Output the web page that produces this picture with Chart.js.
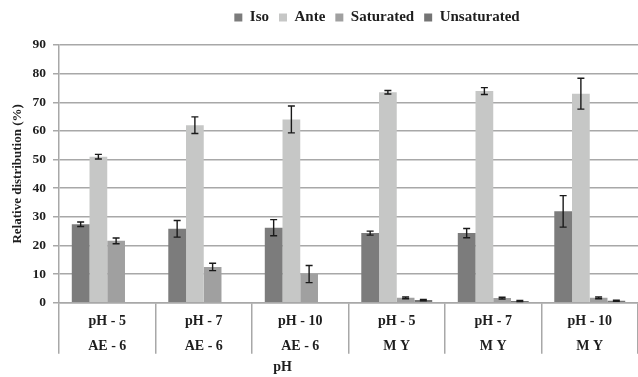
<!DOCTYPE html>
<html>
<head>
<meta charset="utf-8">
<script src="https://cdn.jsdelivr.net/npm/chart.js@4/dist/chart.umd.min.js"></script>
<style>
  html, body { margin: 0; padding: 0; background: #ffffff; }
  #wrap { width: 638px; height: 377px; }
</style>
</head>
<body>
<div id="wrap"><canvas id="chart" width="638" height="377"></canvas></div>
<script>
// Sample groups (pH / strain)
const categories = [
  ['pH - 5', 'AE - 6'], ['pH - 7', 'AE - 6'], ['pH - 10', 'AE - 6'],
  ['pH - 5', 'M Y'], ['pH - 7', 'M Y'], ['pH - 10', 'M Y']
];

// Fatty acid class distribution (%), mean and error
const isoValues = [27.4, 25.8, 26.2, 24.3, 24.3, 31.9];
const isoErrors = [0.8, 2.9, 2.8, 0.7, 1.6, 5.5];

const anteValues = [51.0, 62.0, 64.0, 73.5, 73.9, 73.0];
const anteErrors = [0.8, 2.9, 4.7, 0.6, 1.2, 5.4];

const saturatedValues = [21.6, 12.5, 10.0, 1.7, 1.6, 1.7];
const saturatedErrors = [1.0, 1.3, 3.0, 0.3, 0.3, 0.3];

const unsaturatedValues = [null, null, null, 0.9, 0.6, 0.7];
const unsaturatedErrors = [null, null, null, 0.2, 0.2, 0.2];

const seriesNames = ['Iso', 'Ante', 'Saturated', 'Unsaturated'];
const yTickValues = [0, 10, 20, 30, 40, 50, 60, 70, 80, 90];
const xAxisTitle = 'pH';
const yAxisTitle = 'Relative distribution (%)';

const seriesColors = ['#7c7c7c', '#c6c7c6', '#a0a0a0', '#747474'];
const serifFont = '"Liberation Serif", "Times New Roman", serif';
const textColor = '#1e1e1e';
const gridColor = '#a8a8a8';

const errorSets = [isoErrors, anteErrors, saturatedErrors, unsaturatedErrors];
const valueSets = [isoValues, anteValues, saturatedValues, unsaturatedValues];

// Draws the error whiskers on top of each bar
const errorBarPlugin = {
  id: 'errorBars',
  afterDatasetsDraw(chart) {
    const ctx = chart.ctx;
    const y = chart.scales.y;
    ctx.save();
    ctx.strokeStyle = '#1a1a1a';
    ctx.lineWidth = 1.4;
    chart.data.datasets.forEach((ds, di) => {
      const meta = chart.getDatasetMeta(di);
      const errs = errorSets[di];
      meta.data.forEach((bar, i) => {
        const v = ds.data[i];
        const e = errs[i];
        if (v == null || e == null) return;
        const x = bar.x;
        const top = y.getPixelForValue(v + e);
        const bot = y.getPixelForValue(v - e);
        const cap = 3.5;
        ctx.beginPath();
        ctx.moveTo(x, top); ctx.lineTo(x, bot);
        ctx.moveTo(x - cap, top); ctx.lineTo(x + cap, top);
        ctx.moveTo(x - cap, bot); ctx.lineTo(x + cap, bot);
        ctx.stroke();
      });
    });
    ctx.restore();
  }
};

// Axis title under the category labels
const xTitlePlugin = {
  id: 'xTitle',
  afterDraw(chart) {
    const ctx = chart.ctx;
    const xs = chart.scales.x;
    ctx.save();
    ctx.font = 'bold 14px ' + serifFont;
    ctx.fillStyle = textColor;
    ctx.textAlign = 'center';
    ctx.textBaseline = 'middle';
    ctx.fillText(xAxisTitle, xs.left + xs.width * 0.386, 367);
    ctx.restore();
  }
};

// Moves the legend row right of the canvas centre and up to the top edge
const legendShiftPlugin = {
  id: 'legendShift',
  afterLayout(chart) {
    const lg = chart.legend;
    if (!lg) return;
    const dx = 58;
    const dy = -10;
    lg.left += dx;
    lg.right += dx;
    lg.top += dy;
    lg.bottom += dy;
  }
};

new Chart(document.getElementById('chart'), {
  type: 'bar',
  data: {
    labels: categories,
    datasets: valueSets.map((vals, i) => ({
      label: seriesNames[i],
      data: vals,
      backgroundColor: seriesColors[i],
      borderWidth: 0,
      categoryPercentage: 0.735,
      barPercentage: 1.0
    }))
  },
  options: {
    responsive: false,
    animation: false,
    devicePixelRatio: 1,
    layout: { padding: { top: 0, left: 0, right: 0, bottom: 0 } },
    plugins: {
      legend: {
        position: 'top',
        labels: {
          boxWidth: 8,
          boxHeight: 8,
          padding: 10,
          color: textColor,
          font: { family: serifFont, size: 15, weight: 'bold' }
        }
      },
      tooltip: { enabled: false }
    },
    scales: {
      x: {
        offset: true,
        grid: {
          offset: true,
          drawOnChartArea: false,
          drawTicks: true,
          tickLength: 51,
          color: gridColor,
          lineWidth: 1.5
        },
        border: { display: true, color: gridColor, width: 1.5 },
        ticks: {
          padding: -45,
          color: textColor,
          maxRotation: 0,
          autoSkip: false,
          font: { family: serifFont, size: 14, weight: 'bold', lineHeight: 1.8 }
        },
        afterFit(scale) { scale.height = 74.3; }
      },
      y: {
        min: 0,
        max: 90,
        afterBuildTicks(scale) { scale.ticks = yTickValues.map(v => ({ value: v })); },
        grid: {
          color: gridColor,
          lineWidth: 1.5,
          drawTicks: true,
          tickLength: 6
        },
        border: { display: true, color: gridColor, width: 1.5 },
        ticks: {
          padding: 7,
          color: textColor,
          font: { family: serifFont, size: 13.5, weight: 'bold' }
        },
        title: {
          display: true,
          text: yAxisTitle,
          color: textColor,
          padding: { top: 10, bottom: 0 },
          font: { family: serifFont, size: 13, weight: 'bold' }
        },
        afterFit(scale) {
          scale.width = 59;
          scale.paddingTop = 45;
        }
      }
    }
  },
  plugins: [errorBarPlugin, xTitlePlugin, legendShiftPlugin]
});
</script>
</body>
</html>
